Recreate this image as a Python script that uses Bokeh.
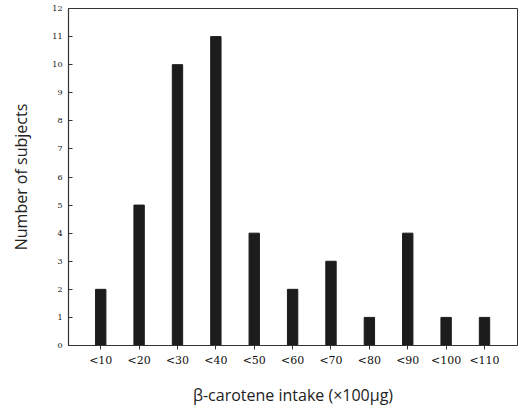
from bokeh.plotting import figure
from bokeh.models import FixedTicker, Range1d
from bokeh.embed import file_html
from bokeh.resources import INLINE

categories = ["<10", "<20", "<30", "<40", "<50", "<60", "<70", "<80", "<90", "<100", "<110"]
counts = [2, 5, 10, 11, 4, 2, 3, 1, 4, 1, 1]
y_ticks = list(range(0, 13))

xs = list(range(len(categories)))

p = figure(width=520, height=408, output_backend="svg", toolbar_location=None,
           x_range=Range1d(-0.84, 10.86), y_range=Range1d(0, 12),
           min_border_left=68, min_border_top=8, min_border_right=3, min_border_bottom=8)

p.vbar(x=xs, top=counts, width=0.27, fill_color="#1c1c1c", line_color="#1c1c1c")

p.xaxis.ticker = FixedTicker(ticks=xs)
p.xaxis.major_label_overrides = {i: c for i, c in enumerate(categories)}
p.yaxis.ticker = FixedTicker(ticks=y_ticks)

p.xgrid.visible = False
p.ygrid.visible = False

for ax in (p.xaxis[0], p.yaxis[0]):
    ax.axis_line_color = "#333333"
    ax.axis_line_width = 1.2
    ax.major_tick_line_color = "#333333"
    ax.minor_tick_line_color = None
    ax.major_label_text_font = "DejaVu Serif"
    ax.major_label_text_color = "#111111"
    ax.axis_label_text_font = "Open Sans"
    ax.axis_label_text_font_style = "normal"
    ax.axis_label_text_color = "#222222"
    ax.axis_label_text_font_size = "16px"

p.yaxis.major_tick_in = 4
p.yaxis.major_tick_out = 0
p.yaxis.major_label_text_font_size = "8px"
p.yaxis.major_label_standoff = 6
p.yaxis.axis_label = "Number of subjects"
p.yaxis.axis_label_standoff = 17

p.xaxis.major_tick_in = 0
p.xaxis.major_tick_out = 4
p.xaxis.major_label_text_font_size = "11px"
p.xaxis.major_label_standoff = 4
p.xaxis.axis_label = "β-carotene intake (×100μg)"
p.xaxis.axis_label_standoff = 14

p.outline_line_color = "#333333"
p.outline_line_width = 1

open("out.html", "w").write(file_html(p, INLINE))
